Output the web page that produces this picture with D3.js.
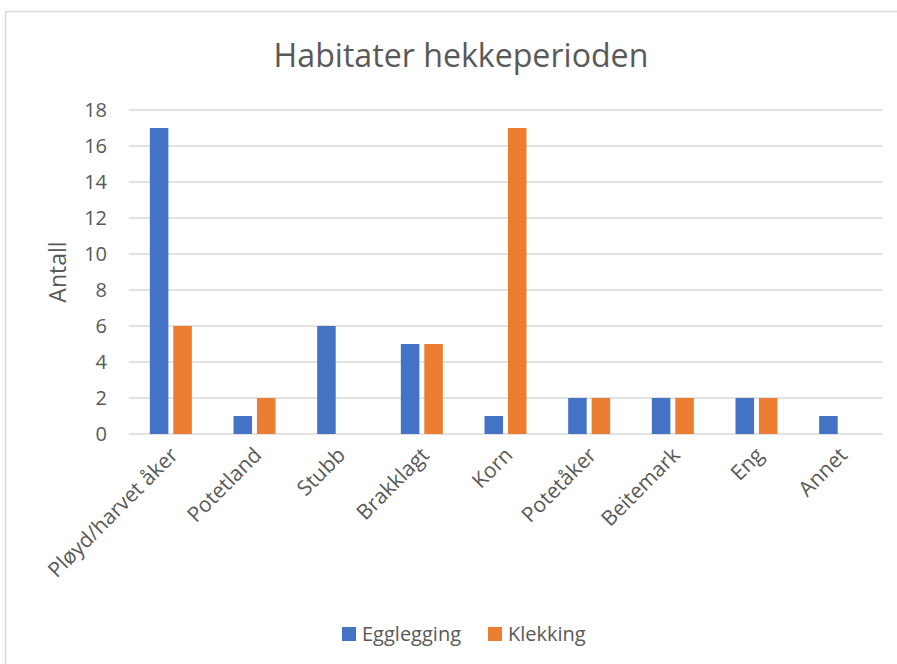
<!DOCTYPE html>
<meta charset="utf-8">
<style>
    html,
    body {
        margin: 0;
        padding: 0;
        background: #fff;
    }

    text {
        font-family: "Open Sans", "Noto Sans", sans-serif;
        fill: #595959;
    }

    .grid line {
        stroke: #d9d9d9;
        stroke-width: 1.5px;
    }
</style>
<svg id="canvas" width="897" height="664"></svg>
<script src="https://d3js.org/d3.v7.min.js"></script>
<script>
    // chart values
    const categories = ["Pløyd/harvet åker", "Potetland", "Stubb", "Brakklagt", "Korn", "Potetåker", "Beitemark", "Eng", "Annet"];
    const seriesNames = ["Egglegging", "Klekking"];
    const egglegging = [17, 1, 6, 5, 1, 2, 2, 2, 1];
    const klekking = [6, 2, 0, 5, 17, 2, 2, 2, 0];
    const yTicks = [0, 2, 4, 6, 8, 10, 12, 14, 16, 18];
    const colours = ["#4472c4", "#ed7d31"];

    var svg = d3.select("svg");

    // outer chart frame
    svg.append("rect")
        .attr("x", 5.5).attr("y", 11.5)
        .attr("width", 1000).attr("height", 1000)
        .attr("fill", "none")
        .attr("stroke", "#d9d9d9")
        .attr("stroke-width", 1.5);

    var plotLeft = 129, plotRight = 882, plotTop = 110, plotBottom = 434;

    var y = d3.scaleLinear().domain([0, 18]).range([plotBottom, plotTop]);
    var x0 = d3.scaleBand().domain(categories).range([plotLeft, plotRight]);
    var groupW = 42;
    var x1 = d3.scaleBand().domain(seriesNames).range([0, groupW]).paddingInner(0.21);

    // gridlines
    svg.append("g")
        .attr("class", "grid")
        .selectAll("line")
        .data(yTicks)
        .enter().append("line")
        .attr("x1", plotLeft).attr("x2", plotRight)
        .attr("y1", d => y(d)).attr("y2", d => y(d));

    // y tick labels
    svg.append("g")
        .selectAll("text")
        .data(yTicks)
        .enter().append("text")
        .attr("x", 107)
        .attr("y", d => y(d))
        .attr("dy", "0.36em")
        .attr("text-anchor", "end")
        .style("font-size", "20px")
        .text(d => d);

    // bars
    var rows = categories.map((c, i) => ({ cat: c, values: [egglegging[i], klekking[i]] }));
    var groups = svg.append("g")
        .selectAll("g")
        .data(rows)
        .enter().append("g")
        .attr("transform", d => `translate(${x0(d.cat) + x0.bandwidth() / 2 - groupW / 2},0)`);

    groups.selectAll("rect")
        .data(d => d.values.map((v, j) => ({ key: seriesNames[j], value: v, j: j })))
        .enter().append("rect")
        .filter(d => d.value > 0)
        .attr("x", d => x1(d.key))
        .attr("width", x1.bandwidth())
        .attr("y", d => y(d.value))
        .attr("height", d => y(0) - y(d.value))
        .attr("fill", d => colours[d.j]);

    // x labels, rotated
    svg.append("g")
        .selectAll("text")
        .data(categories)
        .enter().append("text")
        .attr("transform", d => `translate(${x0(d) + x0.bandwidth() / 2 - 2},${plotBottom + 12}) rotate(-45)`)
        .attr("text-anchor", "end")
        .attr("dy", "0.7em")
        .style("font-size", "21px")
        .text(d => d);

    // axis title
    svg.append("text")
        .attr("transform", "translate(66,272) rotate(-90)")
        .attr("text-anchor", "middle")
        .style("font-size", "23px")
        .text("Antall");

    // chart title, sized to match the original width
    var title = svg.append("text")
        .attr("x", 461)
        .attr("y", 67)
        .attr("text-anchor", "middle")
        .style("font-size", "30px")
        .text("Habitater hekkeperioden");
    var tw = title.node().getComputedTextLength();
    title.style("font-size", (30 * 375 / tw) + "px");

    // legend
    var legend = svg.append("g");
    var legendX = [342, 488];
    seriesNames.forEach(function(name, i) {
        legend.append("rect")
            .attr("x", legendX[i]).attr("y", 627)
            .attr("width", 14).attr("height", 14)
            .attr("fill", colours[i]);
        legend.append("text")
            .attr("x", legendX[i] + 20)
            .attr("y", 634)
            .attr("dy", "0.36em")
            .style("font-size", "20px")
            .text(name);
    });
</script>
